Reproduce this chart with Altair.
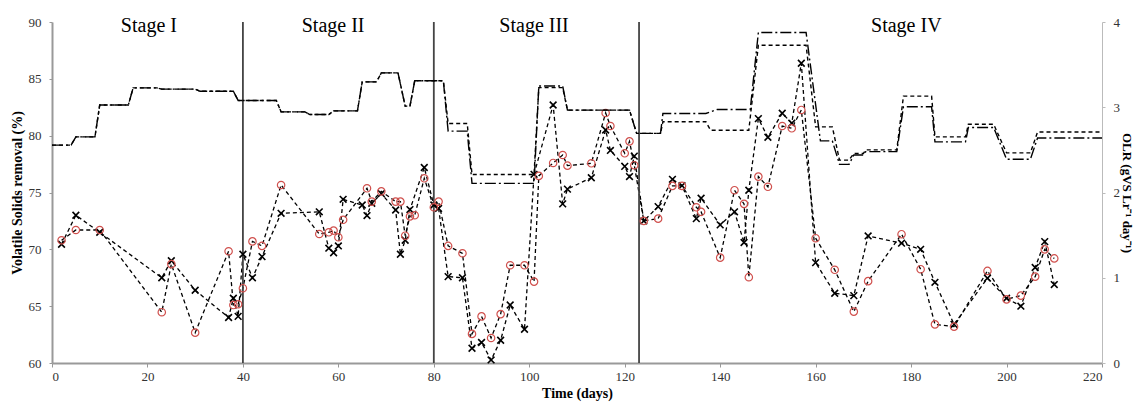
import altair as alt
import pandas as pd

# ---- VS removal, series marked with crosses (black x) ----
x_days = [2, 5, 10, 23, 25, 30, 37, 38, 39, 40, 42, 44, 48, 56, 58, 59, 60, 61, 65, 66, 67, 69, 72, 73,
          74, 75, 78, 80, 81, 83, 86, 88, 90, 92, 94, 96, 99, 101, 105, 107, 108, 113, 116, 117, 120,
          121, 122, 124, 127, 130, 132, 135, 136, 140, 143, 145, 146, 148, 150, 153, 155, 157, 160,
          164, 168, 171, 178, 182, 185, 189, 196, 200, 203, 206, 208, 210]
x_vs = [70.45, 73.0, 71.5, 67.5, 69.0, 66.4, 64.0, 65.7, 64.1, 69.57, 67.5, 69.36, 73.17, 73.3, 70.1,
        69.7, 70.3, 74.4, 73.9, 72.97, 74.05, 74.9, 73.46, 69.57, 70.8, 73.5, 77.2, 73.9, 73.6, 67.6,
        67.5, 61.3, 61.8, 60.27, 62.0, 65.1, 62.97, 76.6, 82.7, 74.0, 75.3, 76.3, 80.5, 78.7, 77.3,
        76.4, 78.2, 72.5, 73.76, 76.16, 75.6, 72.7, 74.5, 72.15, 73.3, 70.6, 75.2, 81.5, 79.86, 81.97,
        81.1, 86.37, 68.83, 66.14, 65.93, 71.18, 70.54, 70.0, 67.1, 63.4, 67.46, 65.7, 65.0, 68.4,
        70.68, 66.9]

# ---- VS removal, series marked with open circles (red o) ----
o_days = [2, 5, 10, 23, 25, 30, 37, 38, 39, 40, 42, 44, 48, 56, 58, 59, 60, 61, 66, 67, 69, 72, 73,
          74, 75, 76, 78, 80, 81, 83, 86, 88, 90, 92, 94, 96, 99, 101, 102, 105, 107, 108, 113, 116,
          117, 120, 121, 122, 124, 127, 130, 132, 135, 136, 140, 143, 145, 146, 148, 150, 153, 155,
          157, 160, 164, 168, 171, 178, 182, 185, 189, 196, 200, 203, 206, 208, 210]
o_vs = [70.8, 71.7, 71.7, 64.47, 68.7, 62.67, 69.83, 65.1, 65.17, 66.58, 70.7, 70.3, 75.66, 71.35,
        71.5, 71.65, 71.06, 72.6, 75.37, 74.2, 75.1, 74.2, 74.2, 71.2, 72.9, 73.0, 76.25, 73.7, 74.2,
        70.3, 69.65, 62.56, 64.1, 62.2, 64.3, 68.6, 68.6, 67.16, 76.46, 77.6, 78.3, 77.36, 77.57, 82.0,
        80.85, 78.45, 79.5, 77.4, 72.5, 72.7, 75.58, 75.58, 73.7, 73.3, 69.27, 75.2, 74.0, 67.55, 76.4,
        75.5, 80.85, 80.65, 82.26, 70.98, 68.2, 64.52, 67.2, 71.33, 68.25, 63.4, 63.2, 68.1, 65.6,
        65.93, 67.6, 70.0, 69.2]

# ---- OLR (right axis), two reactors ----
olr_days_a = [0, 4, 5, 9, 10, 16, 17, 22, 23, 30, 31, 38, 39, 47, 48, 53, 54, 58, 59, 64, 65, 68, 69,
              72.5, 74, 75, 76, 82, 83, 87, 88, 101, 102, 107, 108, 121, 122.5, 127.5, 128, 137, 138,
              146, 148, 158, 160, 163.5, 165, 167, 168, 170, 170.5, 177, 178.4, 184.3, 185, 191.4,
              192, 197.3, 200, 205, 206.5, 220]
olr_a = [2.556, 2.556, 2.653, 2.653, 3.027, 3.027, 3.227, 3.227, 3.213, 3.213, 3.187, 3.187, 3.08,
         3.08, 2.946, 2.946, 2.915, 2.915, 2.958, 2.958, 3.298, 3.298, 3.403, 3.403, 3.013, 3.013,
         3.31, 3.31, 2.81, 2.81, 2.212, 2.212, 3.23, 3.23, 2.966, 2.966, 2.693, 2.693, 2.83, 2.83,
         2.73, 2.73, 3.728, 3.728, 2.77, 2.77, 2.38, 2.38, 2.458, 2.458, 2.5, 2.5, 3.13, 3.13, 2.653,
         2.653, 2.80, 2.80, 2.465, 2.465, 2.71, 2.71]

olr_days_b = [0, 4, 5, 9, 10, 16, 17, 22, 23, 30, 31, 38, 39, 47, 48, 53, 54, 58, 59, 64, 65, 68, 69,
              72.5, 74, 75, 76, 82, 83, 87, 88, 101, 102, 107, 108, 121, 122.5, 127.5, 128, 137, 139.4,
              146.3, 148, 158, 161, 163.5, 165, 167, 168, 170, 170.5, 177, 178.4, 184.3, 185, 191.4,
              192, 197.3, 200, 205, 206.5, 220]
olr_b = [2.556, 2.556, 2.653, 2.653, 3.027, 3.027, 3.227, 3.227, 3.213, 3.213, 3.187, 3.187, 3.08,
         3.08, 2.946, 2.946, 2.915, 2.915, 2.958, 2.958, 3.298, 3.298, 3.403, 3.403, 3.013, 3.013,
         3.31, 3.31, 2.72, 2.72, 2.107, 2.107, 3.25, 3.25, 2.966, 2.966, 2.693, 2.693, 2.927, 2.927,
         2.974, 2.974, 3.877, 3.877, 2.606, 2.606, 2.33, 2.33, 2.44, 2.44, 2.48, 2.48, 3.005, 3.005,
         2.594, 2.594, 2.763, 2.763, 2.39, 2.39, 2.64, 2.64]

stage_bounds = [40, 80, 123]
stage_labels = ["Stage I", "Stage II", "Stage III", "Stage IV"]
stage_label_days = [20.3, 58.9, 101, 179]

W, H = 1050, 341
SERIF = "Liberation Serif"

df_x = pd.DataFrame({"day": x_days, "vs": x_vs})
df_o = pd.DataFrame({"day": o_days, "vs": o_vs})
df_a = pd.DataFrame({"day": olr_days_a, "olr": olr_a})
df_b = pd.DataFrame({"day": olr_days_b, "olr": olr_b})
df_rule = pd.DataFrame({"day": stage_bounds})
df_lab = pd.DataFrame({"day": stage_label_days, "label": stage_labels})

x_enc = alt.X("day:Q", scale=alt.Scale(domain=[0, 220], nice=False),
              axis=alt.Axis(values=list(range(0, 221, 20)), title="Time (days)", grid=False,
                            labelFont=SERIF, labelFontSize=13, labelColor="#333",
                            titleFont=SERIF, titleFontSize=14, titleFontWeight="bold",
                            titleColor="#000", domainColor="#999", domainWidth=2,
                            tickColor="#999", tickSize=4, labelPadding=3, titlePadding=3))

y_left = alt.Y("vs:Q", scale=alt.Scale(domain=[60, 90], nice=False, zero=False),
               axis=alt.Axis(values=list(range(60, 91, 5)), title="Volatile Solids removal (%)",
                             grid=False, labelFont=SERIF, labelFontSize=13, labelColor="#333",
                             titleFont=SERIF, titleFontSize=14, titleFontWeight="bold",
                             titleColor="#000", domainColor="#999", domainWidth=2,
                             tickColor="#999", tickSize=3, labelPadding=8, titlePadding=4))

y_right = alt.Y("olr:Q", scale=alt.Scale(domain=[0, 4], nice=False),
                axis=alt.Axis(orient="right", values=[0, 1, 2, 3, 4],
                              title="OLR (gVS Lr⁻¹ day⁻¹)", grid=False,
                              labelFont=SERIF, labelFontSize=13, labelColor="#333",
                              titleFont=SERIF, titleFontSize=13, titleFontWeight="bold",
                              titleColor="#000", domainColor="#bbb", domainWidth=1,
                              tickColor="#bbb", tickSize=3, labelPadding=8, titlePadding=0))

line_x = alt.Chart(df_x).mark_line(color="black", strokeWidth=1.3, strokeDash=[4, 3]).encode(
    x=x_enc, y=y_left)
line_o = alt.Chart(df_o).mark_line(color="black", strokeWidth=1.3, strokeDash=[4, 3]).encode(
    x=x_enc, y=y_left)
pts_x = alt.Chart(df_x).mark_point(shape="M-1,-1L1,1M-1,1L1,-1", color="black", filled=False,
                                   size=45, strokeWidth=1.6, opacity=1).encode(x=x_enc, y=y_left)
pts_o = alt.Chart(df_o).mark_point(shape="circle", color="#d0504d", filled=False, size=55,
                                   strokeWidth=1.2, opacity=1).encode(x=x_enc, y=y_left)
rules = alt.Chart(df_rule).mark_rule(color="#444", strokeWidth=1.8).encode(
    x=x_enc, y=alt.value(0), y2=alt.value(H))
labels = alt.Chart(df_lab).mark_text(font=SERIF, fontSize=20, baseline="alphabetic",
                                     color="black").encode(x=x_enc, y=alt.value(10),
                                                           text="label:N")

vs_layer = alt.layer(line_x, line_o, rules, pts_x, pts_o, labels)

olr_a_line = alt.Chart(df_a).mark_line(color="black", strokeWidth=1.4, strokeDash=[4, 3]).encode(
    x=x_enc, y=y_right)
olr_b_line = alt.Chart(df_b).mark_line(color="black", strokeWidth=1.4,
                                       strokeDash=[11, 3, 2, 3]).encode(x=x_enc, y=y_right)
olr_layer = alt.layer(olr_a_line, olr_b_line)

chart = alt.layer(vs_layer, olr_layer).resolve_scale(y="independent").properties(
    width=W, height=H,
    autosize=alt.AutoSizeParams(type="none"),
    padding={"left": 52, "top": 22, "right": 34, "bottom": 40},
    background="white",
).configure_view(stroke=None)

chart.save("out.html", embed_options={"renderer": "svg", "actions": False})
